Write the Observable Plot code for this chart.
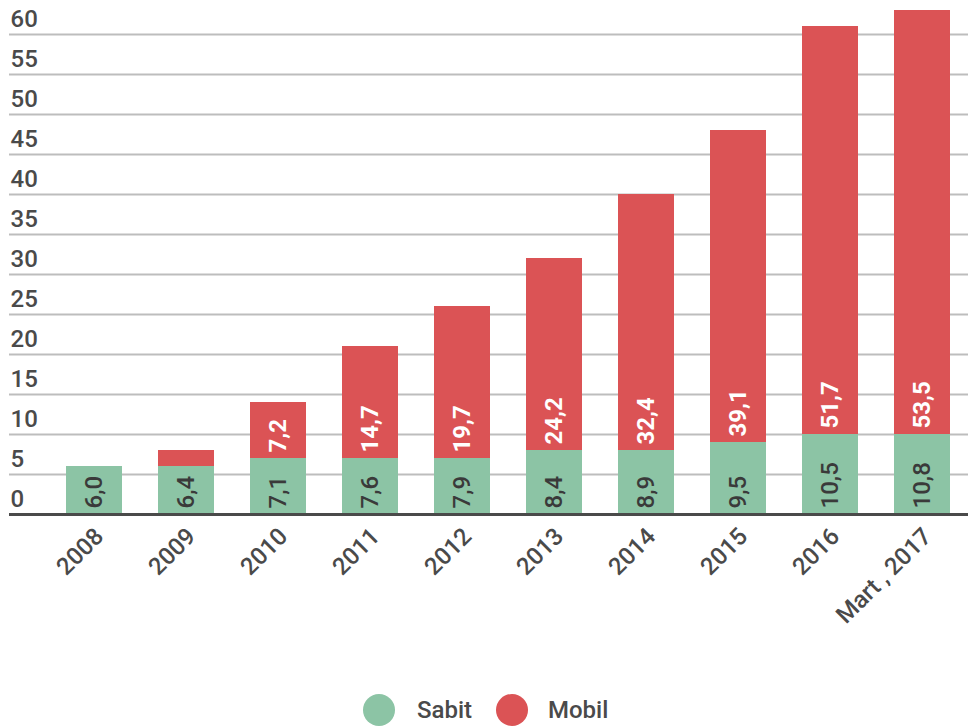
<!DOCTYPE html>
<html>
<head>
<meta charset="utf-8">
<script src="https://cdn.jsdelivr.net/npm/d3@7"></script>
<script src="https://cdn.jsdelivr.net/npm/@observablehq/plot@0.6"></script>
<style>
  html, body { margin: 0; padding: 0; background: #fff; }
  body { width: 968px; height: 727px; overflow: hidden; font-family: Roboto, "Noto Sans", sans-serif; }
  #legend { position: relative; height: 67px; font-size: 24px; color: #4a4a4a; font-weight: 500; }
  .sw { position: absolute; width: 32px; height: 32px; border-radius: 50%; top: 34px; }
  .lt { position: absolute; top: 34px; line-height: 32px; }
</style>
</head>
<body>
<div id="chart"></div>
<div id="legend"></div>
<script>
// Data (values as labelled in the chart)
const categories = ["2008", "2009", "2010", "2011", "2012", "2013", "2014", "2015", "2016", "Mart , 2017"];
const sabit = [6.0, 6.4, 7.1, 7.6, 7.9, 8.4, 8.9, 9.5, 10.5, 10.8];
const mobil = [0, 2.0, 7.2, 14.7, 19.7, 24.2, 32.4, 39.1, 51.7, 53.5]; // 2009 value unlabelled (estimated)
const mobilLabelShown = [false, false, true, true, true, true, true, true, true, true];
const yTicks = [0, 5, 10, 15, 20, 25, 30, 35, 40, 45, 50, 55, 60];
const seriesNames = ["Sabit", "Mobil"];
const seriesColors = ["#8cc4a5", "#db5355"];

// The original chart draws bars at the whole-number part of each value
const rows = [];
categories.forEach((c, i) => {
  rows.push({cat: c, series: "Sabit", value: sabit[i], h: Math.trunc(sabit[i]), label: sabit[i].toFixed(1).replace(".", ",")});
  rows.push({cat: c, series: "Mobil", value: mobil[i], h: Math.trunc(mobil[i]), label: mobilLabelShown[i] ? mobil[i].toFixed(1).replace(".", ",") : ""});
});

const labelOpts = (series) => Plot.stackY1({
  x: "cat", y: "h", z: "series", order: seriesNames,
  text: d => d.series === series ? d.label : "",
  rotate: -90, textAnchor: "start", dy: -6, fontSize: 24,
  fontWeight: series === "Mobil" ? 700 : 500,
  fill: series === "Mobil" ? "#ffffff" : "#3a3a3a"
});

const chart = Plot.plot({
  width: 968,
  height: 660,
  marginLeft: 9,
  marginRight: 0,
  marginTop: 2,
  marginBottom: 146,
  style: {fontFamily: "Roboto, 'Noto Sans', sans-serif", fontSize: "24px", color: "#4a4a4a", background: "#fff"},
  x: {domain: categories, paddingInner: 0.39, paddingOuter: 0.395, align: 0.767, label: null},
  y: {domain: [0, 64], label: null},
  color: {domain: seriesNames, range: seriesColors},
  marks: [
    Plot.ruleY(yTicks.filter(d => d > 0), {stroke: "#bdbdbd", strokeWidth: 2}),
    Plot.axisY(yTicks, {tickSize: 0, tickPadding: 0, textAnchor: "start", dx: 1, dy: -15, fontSize: 24, fontWeight: 500, fill: "#4a4a4a", label: null}),
    Plot.barY(rows, {x: "cat", y: "h", fill: "series", order: seriesNames}),
    Plot.text(rows, labelOpts("Sabit")),
    Plot.text(rows, labelOpts("Mobil")),
    Plot.ruleY([0], {stroke: "#4a4a4a", strokeWidth: 3}),
    Plot.axisX({tickSize: 0, tickPadding: 18, dx: 5, tickRotate: -45, fontSize: 24, fontWeight: 500, fill: "#4a4a4a", label: null})
  ]
});
document.getElementById("chart").appendChild(chart);

// Legend
const legend = document.getElementById("legend");
const pos = [{c: 363, t: 417}, {c: 496, t: 548}];
seriesNames.forEach((s, i) => {
  const sw = document.createElement("div");
  sw.className = "sw";
  sw.style.left = pos[i].c + "px";
  sw.style.background = seriesColors[i];
  legend.appendChild(sw);
  const t = document.createElement("div");
  t.className = "lt";
  t.style.left = pos[i].t + "px";
  t.textContent = s;
  legend.appendChild(t);
});
</script>
</body>
</html>
